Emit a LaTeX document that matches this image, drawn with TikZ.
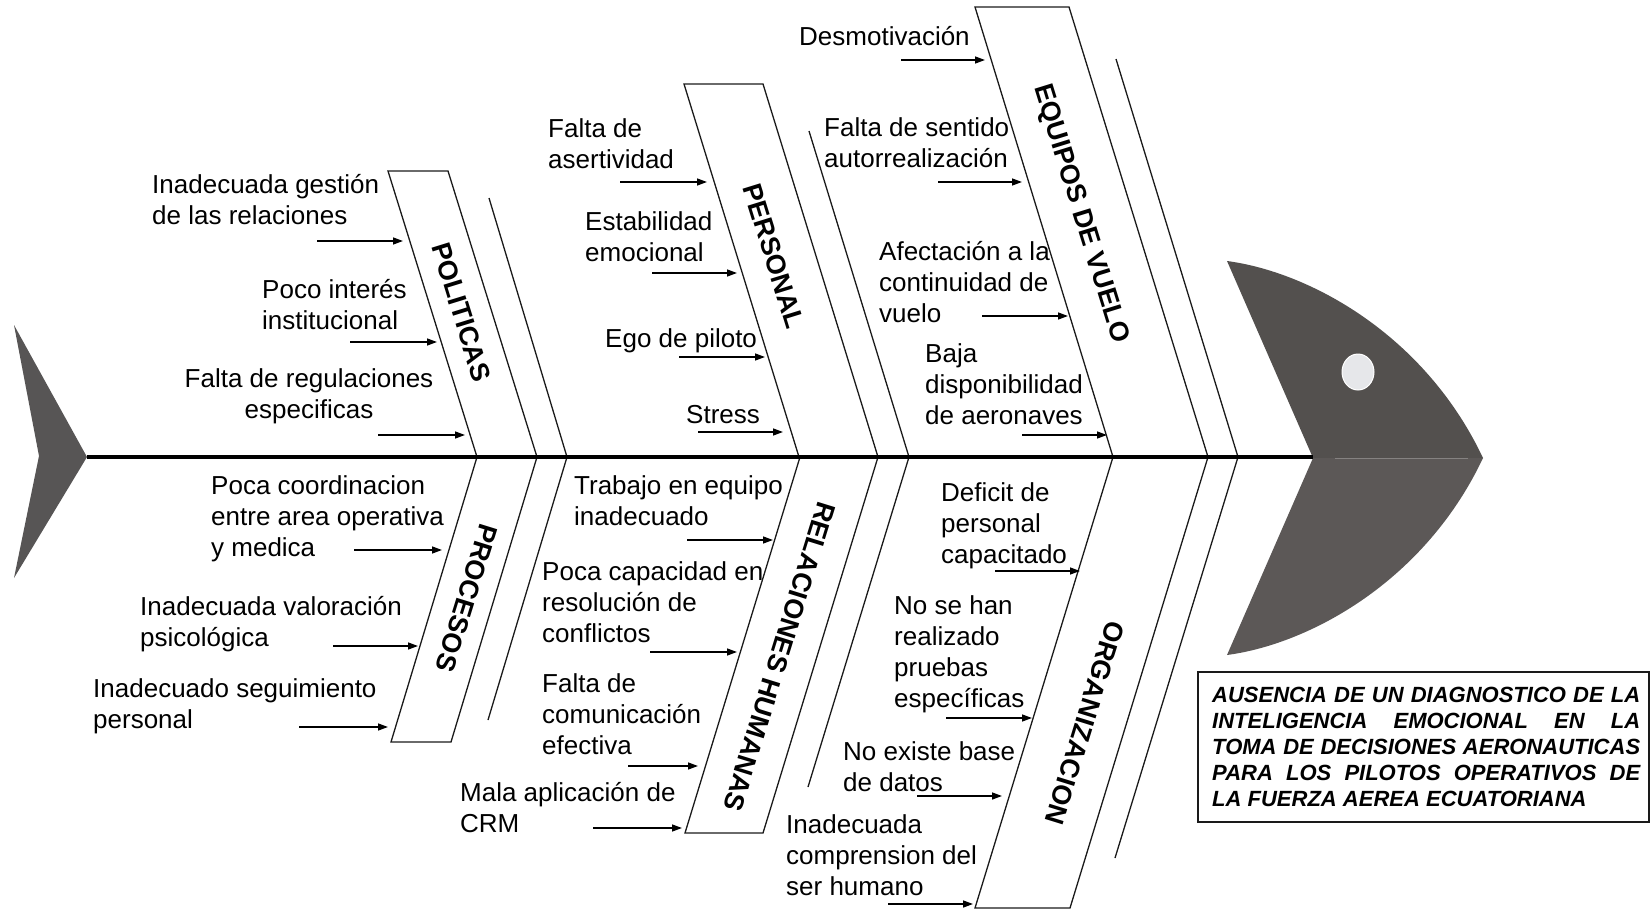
\documentclass[tikz,border=0pt]{standalone}
\usepackage{fontspec}
\setmainfont{Liberation Sans}
\usetikzlibrary{arrows.meta}

\definecolor{finfill}{HTML}{575555}
\definecolor{headtop}{HTML}{53504E}
\definecolor{headbot}{HTML}{5C5857}
\definecolor{eyefill}{HTML}{E6E7EA}
\definecolor{bonecol}{HTML}{1A1A1A}

% multi-line labels whose baseline is the baseline of their first line
\newcommand\causelines[1]{\begin{tabular}[t]{@{}l@{}}#1\end{tabular}}
\newcommand\causelinesc[1]{\begin{tabular}[t]{@{}c@{}}#1\end{tabular}}

\begin{document}
\begin{tikzpicture}[x=1pt,y=-1pt,
  bone/.style={line width=1.3pt, draw=bonecol, line join=miter},
  spine/.style={line width=4pt, draw=black},
  causearrow/.style={line width=1.4pt, draw=black, -{Triangle[length=10pt,width=7pt]}},
  cause/.style={anchor=base west, inner sep=0pt, font=\fontsize{26}{31}\selectfont},
  causec/.style={anchor=base, inner sep=0pt, font=\fontsize{26}{31}\selectfont},
  category/.style={inner sep=0pt, font=\fontsize{27}{32}\selectfont\bfseries,
                   text height=19.3pt, text depth=0pt},
  upcat/.style={category, rotate=-72.8},
  lowcat/.style={category, rotate=-107.2},
]
\useasboundingbox (0,0) rectangle (1652,910);

% ---- tail ----
\fill[finfill] (14,325) -- (87,457) -- (14,578) -- (39,456) -- cycle;

% ---- head ----
\fill[headtop] (1227,261) .. controls (1310,272) and (1425,335) .. (1483,458)
  -- (1313,458) -- cycle;
\fill[headbot] (1483,458) .. controls (1425,581) and (1310,644) .. (1227,655)
  -- (1313,458) -- cycle;
\draw[line width=1pt, draw=headbot!75!white] (1335,458) -- (1468,458);
\draw[line width=1pt, draw=white, fill=eyefill] (1358,372) ellipse [x radius=16, y radius=18];

% ---- upper bones ----
\draw[bone] (388,171) -- (448,171) -- (537,457) -- (477,457) -- cycle;
\draw[bone] (489,198) -- (567,457);
\draw[bone] (684,84) -- (763,84) -- (878,457) -- (799,457) -- cycle;
\draw[bone] (809,131) -- (909,457);
\draw[bone] (975,7) -- (1069,7) -- (1208,457) -- (1113,457) -- cycle;
\draw[bone] (1116,59) -- (1238,457);

% ---- lower bones ----
\draw[bone] (477,457) -- (537,457) -- (451,742) -- (391,742) -- cycle;
\draw[bone] (567,457) -- (488,720);
\draw[bone] (800,457) -- (878,457) -- (763,833) -- (685,833) -- cycle;
\draw[bone] (909,457) -- (808,787);
\draw[bone] (1113,457) -- (1208,457) -- (1070,908) -- (975,908) -- cycle;
\draw[bone] (1238,457) -- (1115,858);

% ---- spine ----
\coordinate (tailtip) at (87,457);
\coordinate (headnotch) at (1313,457);
\draw[spine] (tailtip) -- (headnotch);

% ---- category labels ----
\node[upcat]  (politicas)  at (462,312)  {POLITICAS};
\node[upcat]  (personal)   at (774,256)  {PERSONAL};
\node[upcat]  (equipos)    at (1083,213) {EQUIPOS DE VUELO};
\node[lowcat] (procesos)   at (467,598)  {PROCESOS};
\node[lowcat] (relaciones) at (780,657)  {RELACIONES HUMANAS};
\node[lowcat] (organizacion) at (1085,723) {ORGANIZACION};

% ---- causes ----
\node[cause]  (c1)  at (152,193) {\causelines{Inadecuada gestión\\de las relaciones}};
\node[cause]  (c2)  at (262,298) {\causelines{Poco interés\\institucional}};
\node[causec] (c3)  at (309,387) {\causelinesc{Falta de regulaciones\\especificas}};
\node[cause]  (c4)  at (548,137) {\causelines{Falta de\\asertividad}};
\node[cause]  (c5)  at (585,230) {\causelines{Estabilidad\\emocional}};
\node[cause]  (c6)  at (605,347) {Ego de piloto};
\node[cause]  (c7)  at (686,423) {Stress};
\node[cause]  (c8)  at (799,45)  {Desmotivación};
\node[cause]  (c9)  at (824,136) {\causelines{Falta de sentido\\autorrealización}};
\node[cause]  (c10) at (879,260) {\causelines{Afectación a la\\continuidad de\\vuelo}};
\node[cause]  (c11) at (925,362) {\causelines{Baja\\disponibilidad\\de aeronaves}};
\node[cause]  (c12) at (211,494) {\causelines{Poca coordinacion\\entre area operativa\\y medica}};
\node[cause]  (c13) at (140,615) {\causelines{Inadecuada valoración\\psicológica}};
\node[cause]  (c14) at (93,697)  {\causelines{Inadecuado seguimiento\\personal}};
\node[cause]  (c15) at (574,494) {\causelines{Trabajo en equipo\\inadecuado}};
\node[cause]  (c16) at (542,580) {\causelines{Poca capacidad en\\resolución de\\conflictos}};
\node[cause]  (c17) at (542,692) {\causelines{Falta de\\comunicación\\efectiva}};
\node[cause]  (c18) at (460,801) {\causelines{Mala aplicación de\\CRM}};
\node[cause]  (c19) at (941,501) {\causelines{Deficit de\\personal\\capacitado}};
\node[cause]  (c20) at (894,614) {\causelines{No se han\\realizado\\pruebas\\específicas}};
\node[cause]  (c21) at (843,760) {\causelines{No existe base\\de datos}};
\node[cause]  (c22) at (786,833) {\causelines{Inadecuada\\comprension del\\ser humano}};

% ---- cause arrows ----
\foreach \n/\xa/\xb/\y in {
   1/317/403/241,   2/350/437/342,   3/378/465/435,
   4/620/707/182,   5/652/737/273,   6/679/765/357,   7/698/783/432,
   8/901/985/60,    9/938/1022/182, 10/982/1068/316, 11/1022/1107/435,
  12/354/442/550,  13/333/418/646,  14/299/388/727,
  15/687/773/540,  16/650/737/652,  17/628/698/766,  18/593/682/828,
  19/995/1080/571, 20/946/1032/718, 21/917/1002/796, 22/888/973/904}{
  \coordinate (s\n) at (\xa,\y);
  \coordinate (e\n) at (\xb,\y);
  \draw[causearrow] (s\n) -- (e\n);
}

% ---- problem statement ----
\draw[line width=1.3pt, draw=bonecol] (1198,672) rectangle (1649,822);
\node[anchor=base west, inner sep=0pt,
      font=\fontsize{22}{26}\selectfont\bfseries\itshape] (problem) at (1212,702)
  {\begin{tabular}[t]{@{}l@{}}
   \makebox[428pt][s]{AUSENCIA DE UN DIAGNOSTICO DE LA}\\
   \makebox[428pt][s]{INTELIGENCIA EMOCIONAL EN LA}\\
   \makebox[428pt][s]{TOMA DE DECISIONES AERONAUTICAS}\\
   \makebox[428pt][s]{PARA LOS PILOTOS OPERATIVOS DE}\\
   LA FUERZA AEREA ECUATORIANA
   \end{tabular}};
\end{tikzpicture}
\end{document}
